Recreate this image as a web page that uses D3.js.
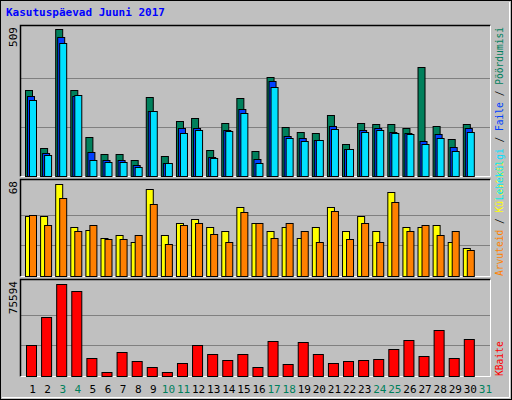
<!DOCTYPE html><html><head><meta charset="utf-8">
<script src="https://cdn.jsdelivr.net/npm/d3@7"></script>
<style>body{margin:0}</style></head><body><svg id="c" width="512" height="400"></svg>
<script>
const days=d3.range(1,32);
const weekend=[3,4,10,11,17,18,24,25,31];
const hits=[299,98,509,299,136,77,77,57,275,70,192,202,91,185,271,88,344,171,153,150,212,112,185,181,181,167,379,174,129,181,0];
const files=[278,81,482,278,84,57,57,39,226,46,167,167,67,160,233,60,330,140,133,126,174,95,160,167,153,150,122,147,102,167,0];
const pages=[264,74,462,282,57,50,50,32,226,46,150,160,63,157,219,46,309,133,122,126,164,95,153,160,150,147,112,133,88,153,0];
const visits=[44,44,68,36,34,28,30,25,64,30,39,42,36,33,51,39,33,36,28,36,51,33,44,33,62,36,36,38,25,21,0];
const sites=[45,38,58,33,38,27,27,30,53,24,38,39,31,25,47,39,28,39,33,25,48,27,39,25,55,33,38,30,33,19,0];
const kbytes=[25100,48300,75594,69800,15200,3600,20100,12700,7700,3600,11000,25100,17700,13500,17700,7700,28400,10200,27600,17700,11000,12700,13500,14300,21800,29200,16800,37500,15200,30100,0];
const svg=d3.select("#c");
svg.append("rect").attr("width",512).attr("height",400).attr("fill","#c0c0c0");
svg.append("rect").attr("x",0.5).attr("y",0.5).attr("width",511).attr("height",399).attr("fill","none").attr("stroke","#000");
svg.append("path").attr("d","M2,397.5H509.5V2").attr("fill","none").attr("stroke","#fff");
svg.append("text").attr("x",6).attr("y",16).attr("fill","#0000ff").attr("font-family","DejaVu Sans Mono").attr("font-weight","bold").attr("font-size",11).text("Kasutuspäevad Juuni 2017");
const x=d3.scaleBand().domain(days).range([22,490]).paddingInner(0);
const mono="DejaVu Sans Mono";
function panel(y0,y1,top,max){
  svg.append("rect").attr("x",20).attr("y",y0).attr("width",470).attr("height",y1-y0).attr("fill","#c0c0c0");
  const y=d3.scaleLinear().domain([0,max]).range([y1,top]);
  [max/3,2*max/3].forEach(v=>svg.append("line").attr("x1",21).attr("x2",490).attr("y1",Math.round(y(v))+.5).attr("y2",Math.round(y(v))+.5).attr("stroke","#808080"));
  svg.append("path").attr("d",`M20.5,${y1+0.5}V${y0+0.5}H490.5`).attr("fill","none").attr("stroke","#000").attr("stroke-width",1.5);
  svg.append("path").attr("d",`M20.5,${y1+0.5}H490.5V${y0+0.5}`).attr("fill","none").attr("stroke","#fff");
  svg.append("text").attr("transform",`translate(17,${y0+2}) rotate(-90)`).attr("text-anchor","end").attr("font-family",mono).attr("font-size",11).text(max);
  return y;
}
function bars(y,data,off,w,col){
  svg.append("g").selectAll("rect").data(days.filter((d,i)=>data[i]>0)).join("rect")
   .attr("x",d=>x(d)+3+off+.5).attr("y",d=>Math.round(y(data[d-1]))+.5).attr("width",w)
   .attr("height",d=>Math.round(y(0))-Math.round(y(data[d-1]))).attr("fill",col).attr("stroke","#000");
}
const y1=panel(25,176,29,509);
bars(y1,hits,0,7,"#00805c");bars(y1,files,2,7,"#0040ff");bars(y1,pages,4,7,"#00e0ff");
const y2=panel(179,276,184,68);
bars(y2,visits,0,7,"#ffff00");bars(y2,sites,4,7,"#ff8000");
const y3=panel(279,376,284,75594);
bars(y3,kbytes,1,10,"#ff0000");
svg.append("g").selectAll("text").data(days).join("text").attr("x",d=>x(d)+x.bandwidth()/2+3).attr("y",393)
 .attr("text-anchor","middle").attr("font-family",mono).attr("font-size",11)
 .attr("fill",d=>weekend.includes(d)?"#00805c":"#000").text(d=>d);
function vlabel(yPos,anchor,parts){
  const t=svg.append("text").attr("transform",`translate(503,${yPos}) rotate(-90)`).attr("text-anchor",anchor).attr("font-family",mono).attr("font-size",9.6);
  parts.forEach(([s,c])=>t.append("tspan").attr("fill",c).text(s));
}
vlabel(276,"start",[["Arvuteid","#ff8000"],[" / ","#000"],["Külastusi","#ffff00"]]);
vlabel(27,"end",[["Lehekülgi","#00e0ff"],[" / ","#000"],["Faile","#0040ff"],[" / ","#000"],["Pöördumisi","#00805c"]]);
vlabel(376,"start",[["KBaite","#ff0000"]]);
</script></body></html>
